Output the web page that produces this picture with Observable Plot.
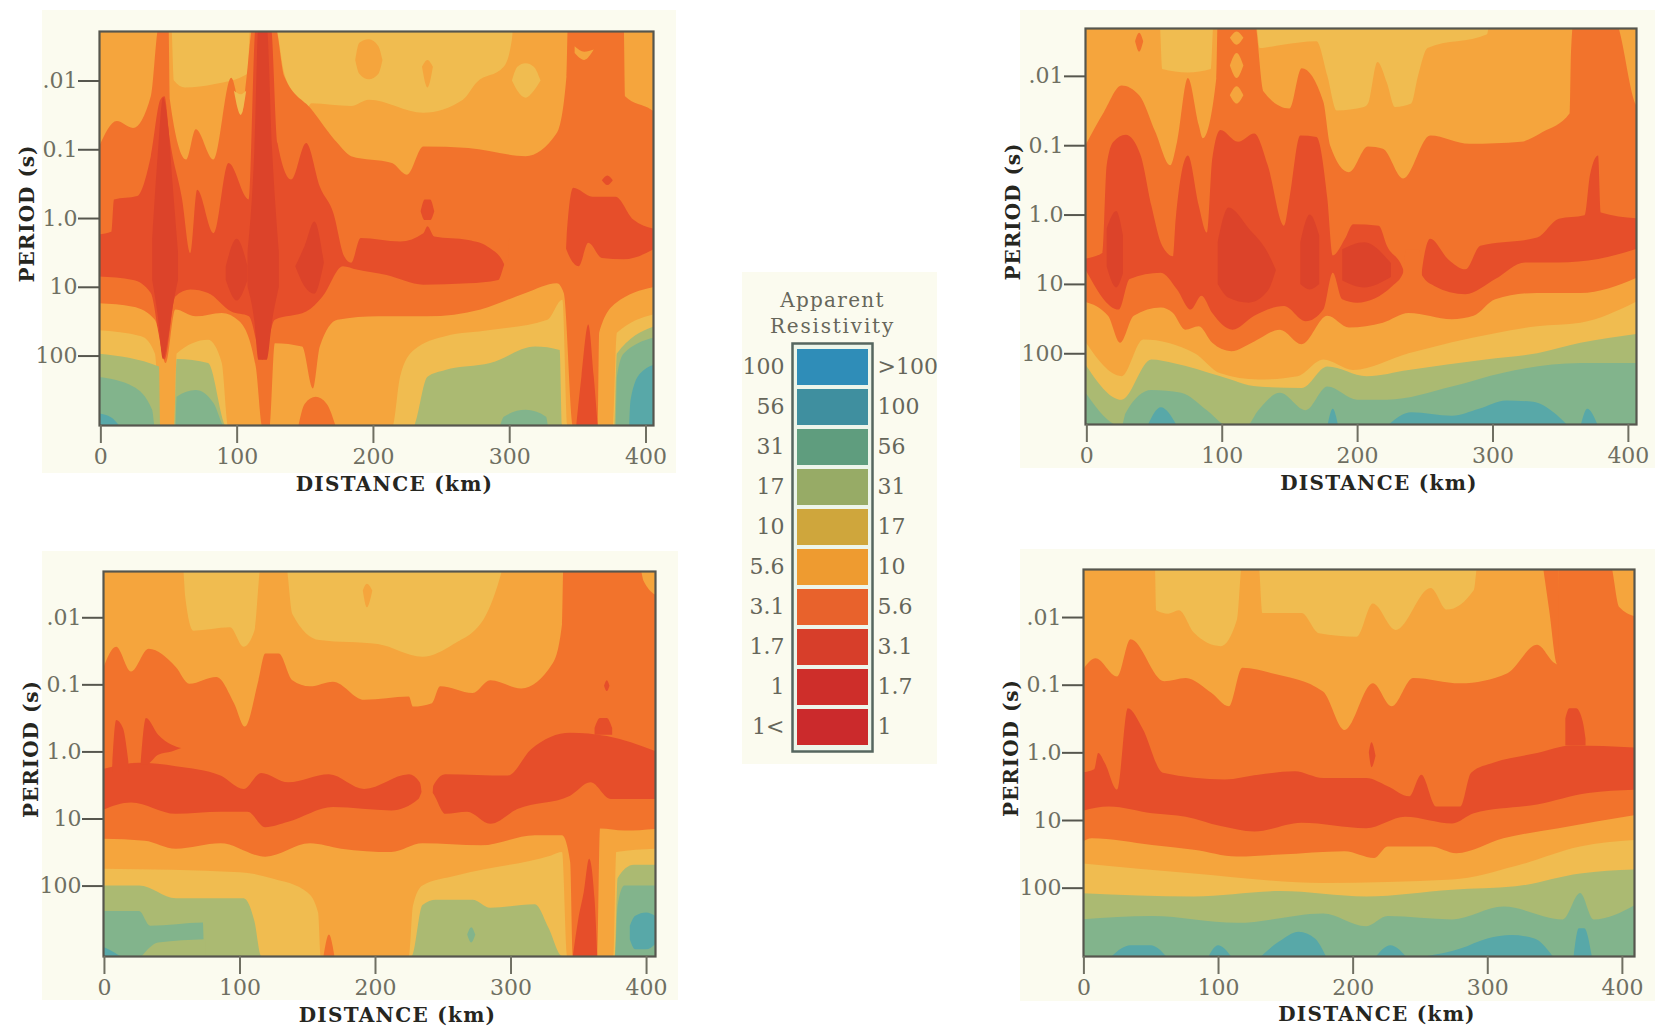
<!DOCTYPE html>
<html><head><meta charset="utf-8">
<script src="https://cdn.jsdelivr.net/npm/d3@7"></script>
<script src="https://cdn.jsdelivr.net/npm/@observablehq/plot@0.6"></script>
<style>
html,body{margin:0;padding:0;background:#fff}
#page{position:relative;width:1655px;height:1027px;overflow:hidden;background:#fff}
#page svg{position:absolute}
</style></head><body><div id="page"></div>
<script>
// Contour values: [distance km, log10 period s]. Each curve fills downward.
const tickPeriods=[0.01,0.1,1,10,100];
const tickPeriodLabels=[".01","0.1","1.0","10","100"];
const tickDistances=[0,100,200,300,400];
const legendLeft=["100","56","31","17","10","5.6","3.1","1.7","1","1<"];
const legendRight=[">100","100","56","31","17","10","5.6","3.1","1.7","1"];
const legendColors=["#2f8db8","#3f8f9f","#5f9d7e","#97ab66","#cfa63c","#ee9b30","#e8622c","#d73e2a","#ce2e2a","#cb2a2c"];
const YEL="#f0bc50",ORG="#f5a53d",RO="#f2732c",RED="#e64e2a",DRK="#dc432a",OLV="#abba72",GRN="#82b48c",TEAL="#58a8a8";
const letterSpacings={"DISTANCE (km)":"1.3px","PERIOD (s)":"1px","Apparent":"1.3px","Resistivity":"1.8px"};

// top-left
const tlU1=[[-2,-2.8],[52,-2.8],[54,-2],[62,-1.9],[84,-1.95],[108,-2.1],[110,-2.8],[128,-2.8],[135,-2.1],[142,-1.8],[150,-1.55],[155,-1.67],[184,-1.63],[197,-1.72],[237,-1.53],[266,-1.72],[276,-1.97],[296,-2.2],[302,-2.6],[303,-2.8],[410,-2.8]];
const tlU2=[[-2,-0.99],[12,-1.41],[24,-1.31],[37,-1.77],[43,-2.8],[50,-2.8],[51,-1.72],[63,-0.85],[70,-1.29],[83,-0.85],[96,-2.04],[104,-1.53],[107,-2],[112,-2.8],[128,-2.8],[135,-2.06],[155,-1.58],[174,-1.09],[184,-0.9],[214,-0.8],[225,-0.63],[237,-1.04],[270,-1.02],[312,-0.9],[335,-1.24],[342,-2.06],[343,-2.8],[384,-2.8],[385,-1.77],[404,-1.58],[410,-1.5]];
const tlU3=[[-2,0.24],[8,0.2],[10,-0.27],[27,-0.32],[37,-0.9],[44,-1.72],[47,-1.77],[51,-1.14],[60,-0.27],[66,0.51],[71,-0.41],[83,0.22],[94,-0.8],[109,-0.27],[114,-2.8],[125,-2.8],[130,-1.09],[140,-0.56],[151,-1.09],[161,-0.46],[171,-0.07],[179,0.56],[184,0.65],[191,0.29],[220,0.34],[237,0.22],[240,0.12],[245,0.27],[270,0.32],[286,0.44],[296,0.66],[299,1.1],[300,1.5],[340,1.5],[342,0.32],[347,-0.44],[361,-0.31],[378,-0.31],[391,0.02],[410,0.17]];
const tlL3=[[-2,0.85],[24,0.9],[37,1.09],[47,2.06],[55,1.14],[66,1.04],[79,1.09],[96,1.36],[109,1.43],[119,2.06],[128,1.48],[151,1.36],[163,1.14],[178,0.7],[188,0.75],[210,0.83],[237,0.97],[270,0.95],[292,0.9],[297,0.65],[299,0.6],[300,0.3],[340,0.3],[342,0.46],[351,0.7],[358,0.36],[368,0.58],[384,0.6],[410,0.41]];
const tlL2=[[-2,1.24],[24,1.29],[40,1.48],[48,2.11],[55,1.33],[70,1.43],[89,1.38],[102,1.5],[114,2.16],[119,3.05],[124,3.05],[128,1.82],[148,1.87],[156,2.48],[161,1.87],[174,1.48],[204,1.43],[240,1.43],[279,1.33],[312,1.09],[335,0.95],[340,1.09],[347,3.05],[365,3.05],[366,1.67],[378,1.24],[410,0.99]];
const tlL1=[[-2,1.63],[30,1.72],[40,1.97],[44,3.05],[54,3.05],[56,1.97],[79,1.77],[89,2.1],[94,3.05],[214,3.05],[220,2.3],[230,1.92],[253,1.72],[286,1.63],[328,1.48],[339,1.19],[343,3.05],[376,3.05],[379,1.67],[410,1.38]];
const tlL0=[[-2,1.97],[43,2.16],[44,3.05],[54,3.05],[56,2.05],[79,2.11],[93,3.05],[229,3.05],[240,2.31],[253,2.21],[286,2.11],[319,1.87],[337,1.92],[339,3.05],[377,3.05],[379,1.97],[410,1.55]];
const tlG=[[-2,2.31],[24,2.45],[38,2.79],[40,3.05],[55,3.05],[56,2.6],[70,2.5],[83,2.69],[92,3.05],[292,3.05],[296,2.89],[312,2.79],[327,2.89],[329,3.05],[378,3.05],[379,2.31],[384,1.97],[410,1.72]];
const tlIslands=[
 [DRK,[[38,0.3,0.9],[42,-0.9,1.4],[46,-1.75,2.05],[50,-1.3,1.7],[53,-0.5,1.3],[57,0.5,0.9]]],
 [DRK,[[108,0.5,1],[113,-1,1.5],[116,-2.8,2.06],[122,-2.8,2.06],[126,-1,1.5],[131,0.5,1]]],
 [DRK,[[143,0.7,0.7],[150,0.4,1],[157,0.05,1.1],[164,0.65,0.65]]],
 [DRK,[[92,0.7,0.9],[100,0.3,1.2],[108,0.7,0.9]]],
 [RED,[[235,-0.1,-0.1],[238,-0.27,0.03],[242,-0.27,0.03],[245,-0.1,-0.1]]],
 [RED,[[368,-0.55,-0.55],[372,-0.62,-0.48],[376,-0.55,-0.55]]],
 [YEL,[[98,-1.85,-1.85],[103,-1.8,-1.5],[107,-1.85,-1.85]]],
 [ORG,[[187,-2.3,-2.3],[190,-2.55,-2.1],[197,-2.6,-2.02],[204,-2.5,-2.1],[207,-2.3,-2.3]]],
 [ORG,[[236,-2.2,-2.2],[240,-2.3,-1.9],[244,-2.2,-2.2]]],
 [YEL,[[302,-2,-2],[306,-2.2,-1.85],[312,-2.25,-1.75],[318,-2.2,-1.85],[323,-2,-2]]],
 [ORG,[[348,-2.5,-2.4],[355,-2.42,-2.3],[362,-2.45,-2.45]]],
 [RED,[[349,3.05,3.05],[353,2.3,3.05],[358,1.55,3.05],[362,2.3,3.05],[365,3.05,3.05]]],
 [RO,[[145,3.05,3.05],[150,2.7,3.05],[158,2.6,3.05],[166,2.7,3.05],[173,3.05,3.05]]],
 [TEAL,[[-2,2.84,3.05],[8,2.9,3.05],[15,3.05,3.05]]],
 [TEAL,[[388,3.05,3.05],[389,2.65,3.05],[396,2.26,3.05],[410,2.11,3.05]]]
];

// top-right
const trU1=[[-2,-2.8],[54,-2.8],[56,-2.1],[75,-2.05],[92,-2.1],[94,-2.8],[125,-2.8],[128,-2.4],[145,-2.45],[170,-2.5],[178,-2],[185,-1.5],[205,-1.55],[208,-1.6],[215,-2.2],[222,-1.9],[228,-1.55],[240,-1.6],[245,-2],[252,-2.4],[296,-2.6],[298,-2.8],[410,-2.8]];
const trU2=[[-2,-0.95],[13,-1.48],[26,-1.86],[39,-1.72],[51,-1.19],[62,-0.71],[67,-1.05],[75,-1.97],[83,-1.29],[86,-1.1],[96,-1.97],[97,-2.8],[124,-2.8],[131,-1.77],[150,-1.53],[159,-2.11],[175,-1.63],[180,-1],[194,-0.61],[208,-0.98],[219,-0.95],[234,-0.52],[254,-1.14],[283,-1.02],[321,-1.05],[337,-1.19],[357,-1.46],[358,-2.35],[360,-2.8],[390,-2.8],[406,-1.58],[410,-1.5]];
const trU3=[[-2,0.64],[12,0.55],[15,-0.71],[20,-1.05],[29,-1.15],[40,-0.86],[48,-0.13],[56,0.45],[64,0.6],[66,0.06],[75,-0.85],[83,-0.13],[89,0.26],[93,-0.81],[99,-1.22],[112,-1.05],[124,-1.17],[134,-0.71],[146,0.16],[150,-0.23],[158,-1.14],[170,-1.12],[178,-0.23],[182,0.59],[191,0.35],[197,0.14],[216,0.16],[222,0.45],[234,0.79],[236,1.5],[246,1.5],[248,0.79],[254,0.35],[267,0.64],[280,0.79],[291,0.45],[333,0.33],[349,0.06],[368,0.01],[372,-0.57],[378,-0.85],[380,-0.03],[410,0.06]];
const trL3=[[-2,0.74],[24,1.37],[32,0.93],[55,0.84],[67,1.08],[77,1.37],[85,1.17],[93,1.42],[108,1.66],[124,1.46],[146,1.32],[162,1.54],[175,1.37],[182,0.84],[189,1.22],[200,1.27],[226,1.03],[234,0.84],[236,0.5],[246,0.5],[248,0.88],[257,1.03],[280,1.15],[302,0.93],[324,0.69],[349,0.69],[378,0.64],[410,0.47]];
const trL2=[[-2,1.25],[16,1.46],[25,1.85],[35,1.46],[55,1.34],[64,1.42],[73,1.66],[83,1.61],[93,1.85],[107,1.97],[124,1.83],[143,1.66],[159,1.87],[178,1.46],[194,1.63],[219,1.56],[238,1.42],[270,1.51],[286,1.46],[302,1.22],[333,1.13],[365,1.13],[410,0.88]];
const trL1=[[-2,1.8],[26,2.33],[42,1.8],[80,2],[99,2.29],[127,2.38],[156,2.33],[175,2.09],[197,2.24],[238,2],[302,1.71],[333,1.61],[365,1.56],[410,1.22]];
const trL0=[[-2,2.12],[26,2.67],[48,2.09],[64,2.14],[99,2.33],[127,2.48],[159,2.5],[178,2.19],[207,2.33],[238,2.24],[295,2.09],[333,2],[365,1.85],[410,1.71]];
const trG=[[-2,2.53],[26,3.05],[29,2.86],[48,2.53],[70,2.57],[89,2.82],[105,3.05],[118,3.05],[127,2.82],[143,2.57],[162,2.82],[178,2.48],[200,2.67],[222,2.67],[270,2.48],[308,2.28],[365,2.14],[410,2.14]];
const trIslands=[
 [ORG,[[106,-2.55,-2.55],[111,-2.64,-2.45],[116,-2.55,-2.55]]],
 [ORG,[[106,-2.15,-2.15],[111,-2.33,-1.97],[116,-2.15,-2.15]]],
 [ORG,[[106,-1.72,-1.72],[111,-1.85,-1.6],[116,-1.72,-1.72]]],
 [RO,[[36,-2.5,-2.5],[39,-2.62,-2.35],[42,-2.5,-2.5]]],
 [DRK,[[15,0.2,0.75],[22,-0.05,1.05],[27,0.3,0.85]]],
 [DRK,[[97,0.4,1],[105,-0.1,1.2],[120,0.2,1.27],[134,0.55,1.1],[140,0.8,0.8]]],
 [DRK,[[158,0.4,1],[165,0,1.08],[172,0.3,1]]],
 [DRK,[[189,0.5,0.95],[205,0.4,1.05],[225,0.7,0.9]]],
 [TEAL,[[45,3.05,3.05],[55,2.78,3.05],[67,3.05,3.05]]],
 [TEAL,[[178,3.05,3.05],[182,2.8,3.05],[186,3.05,3.05]]],
 [TEAL,[[222,3.05,3.05],[240,2.85,3.05],[270,2.9,3.05],[290,2.8,3.05],[310,2.68,3.05],[330,2.7,3.05],[345,2.85,3.05],[356,3.05,3.05]]],
 [TEAL,[[365,3.05,3.05],[370,2.8,3.05],[378,3.05,3.05]]]
];

// bottom-left
const blU1=[[-2,-2.8],[58,-2.8],[60,-2.3],[66,-1.8],[93,-1.85],[103,-1.56],[111,-1.8],[116,-2.8],[134,-2.8],[139,-2.05],[159,-1.66],[202,-1.6],[235,-1.41],[258,-1.6],[281,-2],[293,-2.65],[295,-2.8],[410,-2.8]];
const blU2=[[-2,-1.16],[9,-1.56],[20,-1.19],[33,-1.53],[53,-1.26],[63,-1.01],[83,-1.11],[96,-0.72],[104,-0.37],[114,-1.06],[119,-1.46],[129,-1.46],[139,-1.06],[152,-0.97],[169,-1.04],[192,-0.77],[225,-0.82],[228,-0.67],[242,-0.72],[248,-0.97],[272,-0.87],[285,-1.06],[308,-0.94],[331,-1.31],[338,-1.9],[339,-2.8],[395,-2.8],[398,-2.55],[410,-2.3]];
const blU3=[[-2,0.27],[26,0.17],[53,0.22],[86,0.36],[103,0.56],[116,0.32],[136,0.46],[166,0.34],[192,0.56],[225,0.34],[233,0.46],[235,0.76],[236,1.5],[241,1.5],[243,0.51],[252,0.34],[298,0.36],[315,-0.03],[344,-0.28],[371,-0.23],[410,0.02]];
const blL3=[[-2,0.88],[20,0.76],[53,0.93],[86,0.9],[106,0.9],[119,1.13],[136,1.05],[169,0.83],[212,0.88],[232,0.71],[235,0.6],[241,0.6],[252,0.93],[268,0.9],[285,1.08],[305,0.86],[344,0.66],[359,0.46],[374,0.71],[410,0.71]];
const blL2=[[-2,1.3],[30,1.33],[53,1.45],[86,1.37],[119,1.57],[152,1.37],[175,1.45],[212,1.5],[235,1.37],[278,1.4],[318,1.25],[338,1.25],[344,1.65],[346,3.05],[364,3.05],[366,1.15],[384,1.18],[410,1.15]];
const blL1=[[-2,1.75],[100,1.8],[125,1.9],[150,2.1],[158,2.4],[160,3.05],[225,3.05],[228,2.3],[235,2],[260,1.85],[330,1.55],[338,1.5],[342,3.05],[376,3.05],[378,1.5],[410,1.45]];
const blL0=[[-2,2],[26,2],[53,2.19],[103,2.19],[111,2.53],[116,3.05],[227,3.05],[235,2.29],[245,2.21],[272,2.21],[285,2.33],[318,2.28],[328,2.63],[338,3.05],[377,3.05],[379,1.89],[391,1.69],[410,1.69]];
const blG=[[-2,2.38],[26,2.38],[34,2.6],[73,2.55],[74,3.05],[377,3.05],[379,2.3],[384,2],[410,2]];
const blIslands=[
 [RED,[[6,0.25,0.3],[9,-0.47,0.3],[14,-0.35,0.3],[18,0.15,0.3]]],
 [RED,[[27,0.2,0.2],[31,-0.5,0.2],[40,-0.25,0.05],[50,-0.1,0],[57,-0.05,-0.05]]],
 [RED,[[362,-0.35,-0.25],[366,-0.5,-0.25],[371,-0.5,-0.25],[375,-0.35,-0.25]]],
 [RED,[[369,-0.98,-0.98],[371,-1.06,-0.9],[373,-0.98,-0.98]]],
 [ORG,[[191,-2.4,-2.4],[194,-2.5,-2.15],[198,-2.4,-2.4]]],
 [OLV,[[28,3.05,3.05],[40,2.85,3.05],[75,2.8,3.05]]],
 [GRN,[[268,2.73,2.73],[271,2.62,2.85],[274,2.73,2.73]]],
 [TEAL,[[-2,2.9,3.05],[8,3,3.05],[12,3.05,3.05]]],
 [TEAL,[[388,2.6,2.8],[392,2.45,2.95],[400,2.4,2.95],[410,2.5,2.8]]],
 [RO,[[162,3.05,3.05],[166,2.73,3.05],[170,3.05,3.05]]],
 [RED,[[346,3.05,3.05],[350,2.5,3.05],[354,2.1,3.05],[358,1.6,3.05],[362,2.2,3.05],[364,3.05,3.05]]]
];

// bottom-right
const brU1=[[-2,-2.8],[53,-2.8],[54,-2.1],[63,-2.05],[71,-2.1],[82,-1.77],[102,-1.57],[114,-1.96],[118,-2.8],[130,-2.8],[133,-2.06],[162,-2.06],[175,-1.76],[203,-1.71],[215,-2.2],[232,-1.81],[258,-2.43],[270,-2.11],[290,-2.4],[293,-2.8],[412,-2.8]];
const brU2=[[-2,-1.17],[9,-1.39],[25,-1.12],[35,-1.67],[60,-1.05],[76,-1.1],[95,-0.88],[108,-0.68],[118,-1.25],[140,-1.17],[178,-0.9],[194,-0.33],[215,-1.02],[229,-0.68],[245,-1.1],[280,-1.02],[315,-1.17],[337,-1.59],[350,-1.32],[352,-1.3],[353,-2.8],[391,-2.8],[398,-2.15],[412,-2]];
const brU3=[[-2,0.3],[8,0.25],[11,0.01],[16,0.16],[25,0.55],[33,-0.65],[44,-0.35],[59,0.3],[105,0.4],[130,0.33],[157,0.28],[178,0.38],[210,0.38],[226,0.5],[242,0.65],[251,0.33],[262,0.8],[280,0.8],[288,0.3],[305,0.15],[337,0.01],[363,-0.1],[412,-0.07]];
const brL3=[[-2,0.87],[19,0.8],[51,0.9],[76,0.95],[102,1.09],[127,1.17],[162,1.04],[210,1.12],[239,0.95],[274,1.05],[290,0.9],[337,0.77],[375,0.6],[412,0.55]];
const brL2=[[-2,1.34],[6,1.27],[51,1.37],[82,1.44],[114,1.54],[146,1.51],[194,1.46],[216,1.56],[226,1.39],[258,1.39],[277,1.49],[312,1.27],[353,1.12],[412,0.92]];
const brL1=[[-2,1.64],[82,1.79],[178,1.93],[274,1.88],[321,1.68],[369,1.39],[412,1.29]];
const brL0=[[-2,2.08],[82,2.13],[146,2.05],[210,2.13],[274,2.03],[321,1.98],[369,1.79],[412,1.73]];
const brG=[[-2,2.47],[51,2.42],[114,2.52],[178,2.38],[210,2.57],[226,2.42],[274,2.47],[312,2.28],[356,2.47],[369,2.08],[379,2.47],[412,2.23]];
const brIslands=[
 [RO,[[341,-2.8,-2.8],[346,-2.8,-2.1],[352,-2.8,-1.3],[353,-2.8,-1.3]]],
 [RED,[[358,-0.5,-0.1],[361,-0.65,-0.1],[366,-0.65,-0.1],[371,-0.45,-0.1],[373,-0.2,-0.1]]],
 [RED,[[212,0,0],[214,-0.15,0.22],[217,0.05,0.05]]],
 [TEAL,[[19,3.05,3.05],[35,2.85,3.05],[50,2.85,3.05],[63,3.05,3.05]]],
 [TEAL,[[92,3.05,3.05],[100,2.85,3.05],[111,3.05,3.05]]],
 [TEAL,[[130,3.05,3.05],[145,2.8,3.05],[160,2.65,3.05],[172,2.75,3.05],[181,3.05,3.05]]],
 [TEAL,[[216,3.05,3.05],[228,2.85,3.05],[241,3.05,3.05]]],
 [TEAL,[[241,3.05,3.05],[280,2.9,3.05],[300,2.75,3.05],[318,2.7,3.05],[335,2.75,3.05],[350,3.05,3.05]]],
 [TEAL,[[364,3.05,3.05],[368,2.6,3.05],[372,2.6,3.05],[378,3.05,3.05]]]
];

const page=document.getElementById("page");
const axisInk="#6f6f62";
function mount(svg,left,top){
  svg.style.left=left+"px";svg.style.top=top+"px";
  svg.querySelectorAll("text").forEach(t=>{const s=letterSpacings[t.textContent];if(s)t.style.letterSpacing=s;});
  page.appendChild(svg);
}

function panel(box,frame,xDomain,yDomain,curves,islands,labelDx,labelDy,xLabelDy){
  const [bl,bt,br,bb]=box,[fl,ft,fr,fb]=frame;
  const bottomP=1e4;
  const marks=[Plot.frame({fill:YEL,stroke:null})];
  for(const [col,pts] of curves){
    marks.push(Plot.areaY(pts,{x:d=>d[0],y1:d=>10**d[1],y2:()=>bottomP,fill:col,clip:true,curve:"monotone-x"}));
  }
  for(const [col,pts] of islands){
    marks.push(Plot.areaY(pts,{x:d=>d[0],y1:d=>10**d[1],y2:d=>10**d[2],fill:col,clip:true,curve:"monotone-x"}));
  }
  marks.push(Plot.frame({stroke:"#56564e",strokeWidth:2.2}));
  marks.push(Plot.axisX(tickDistances,{tickSize:18,tickPadding:5,stroke:axisInk,strokeWidth:2,fill:axisInk,fontSize:22,tickFormat:d=>String(d),anchor:"bottom",label:null}));
  marks.push(Plot.axisY(tickPeriods,{tickSize:21,tickPadding:1,stroke:"#56564e",strokeWidth:2,fill:axisInk,fontSize:22,tickFormat:(d,i)=>tickPeriodLabels[tickPeriods.indexOf(d)],anchor:"left",label:null}));
  marks.push(Plot.text(["DISTANCE (km)"],{frameAnchor:"bottom",dx:18,dy:xLabelDy,fontWeight:"bold",fontSize:20,fill:"#26261f",textAnchor:"middle",lineAnchor:"middle"}));
  marks.push(Plot.text(["PERIOD (s)"],{frameAnchor:"left",dx:labelDx,dy:labelDy,rotate:-90,fontWeight:"bold",fontSize:20,fill:"#26261f",textAnchor:"middle",lineAnchor:"middle"}));
  const svg=Plot.plot({width:br-bl,height:bb-bt,marginLeft:fl-bl,marginRight:br-fr,marginTop:ft-bt,marginBottom:bb-fb,
    x:{domain:xDomain,axis:null},
    y:{type:"log",domain:[10**yDomain[0],10**yDomain[1]],reverse:true,axis:null},
    style:{fontFamily:"'DejaVu Serif',serif",fontSize:"22px",background:"#fbfbef",overflow:"visible"},
    marks});
  mount(svg,bl,bt);
}

panel([42,10,676,473],[99,31,653,425],[-1,405.5],[-2.72,3.01],
  [[ORG,tlU1],[RO,tlU2],[RED,tlU3],[RO,tlL3],[ORG,tlL2],[YEL,tlL1],[OLV,tlL0],[GRN,tlG]],tlIslands,-72,-15,59);
panel([1020,10,1655,468],[1085,28,1636,424],[-1,406],[-2.69,3.02],
  [[ORG,trU1],[RO,trU2],[RED,trU3],[RO,trL3],[ORG,trL2],[YEL,trL1],[OLV,trL0],[GRN,trG]],trIslands,-72,-15,59);
panel([42,551,678,1000],[103,571,655,956],[-0.7,406.6],[-2.69,3.05],
  [[ORG,blU1],[RO,blU2],[RED,blU3],[RO,blL3],[ORG,blL2],[YEL,blL1],[OLV,blL0],[GRN,blG]],blIslands,-72,-15,59);
panel([1020,549,1655,1001],[1083,569,1634,956],[-0.3,409],[-2.71,3.01],
  [[ORG,brU1],[RO,brU2],[RED,brU3],[RO,brL3],[ORG,brL2],[YEL,brL1],[OLV,brL0],[GRN,brG]],brIslands,-72,-15,58);

// legend
const legendRows=legendLeft.map((l,i)=>({row:i,left:l,right:legendRight[i],color:legendColors[i]}));
const legendSvg=Plot.plot({width:195,height:492,marginLeft:50,marginRight:65,marginTop:71,marginBottom:13,
  x:{domain:["bar"],axis:null,padding:0.06},
  y:{domain:d3.range(10),axis:null,padding:0.1,align:0.5},
  style:{fontFamily:"'DejaVu Serif',serif",fontSize:"22px",background:"#fbfbef",overflow:"visible"},
  marks:[
    Plot.frame({fill:"#edf5ea",stroke:null}),
    Plot.cell(legendRows,{x:()=>"bar",y:"row",fill:"color"}),
    Plot.frame({stroke:"#56665f",strokeWidth:2.5}),
    Plot.text(legendRows,{y:"row",text:"left",frameAnchor:"left",dx:-8,dy:-1,textAnchor:"end",fill:"#66665a"}),
    Plot.text(legendRows,{y:"row",text:"right",frameAnchor:"right",dx:5,dy:-1,textAnchor:"start",fill:"#66665a"}),
    Plot.text(["Apparent"],{frameAnchor:"top",dy:-43,fontSize:20,fill:"#66665a",textAnchor:"middle",lineAnchor:"middle"}),
    Plot.text(["Resistivity"],{frameAnchor:"top",dy:-17,fontSize:20,fill:"#66665a",textAnchor:"middle",lineAnchor:"middle"})
  ]});
mount(legendSvg,742,272);
</script></body></html>
